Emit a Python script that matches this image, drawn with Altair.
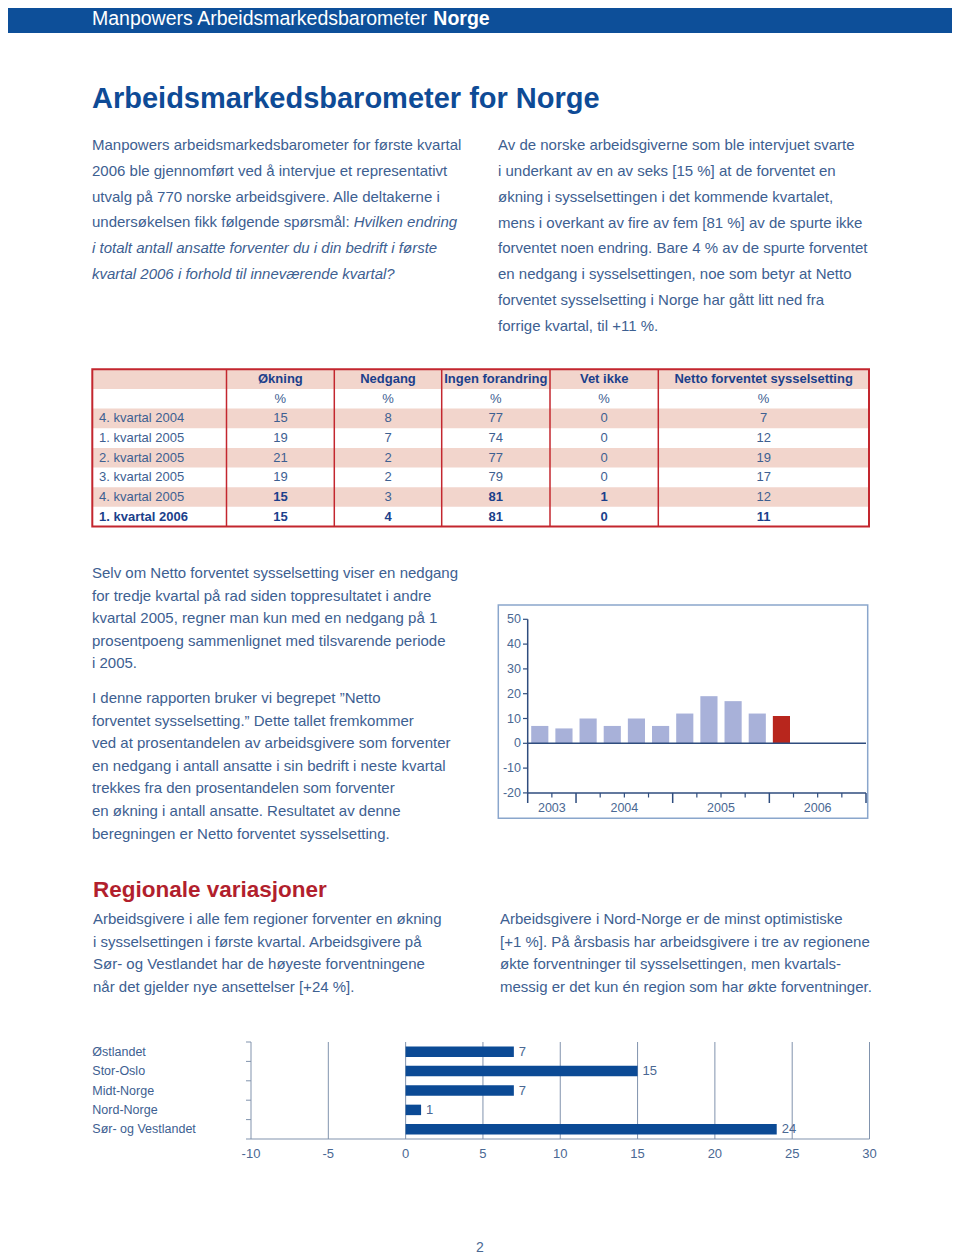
import altair as alt
import pandas as pd

# ======================= DATA =======================
header_regular = "Manpowers Arbeidsmarkedsbarometer "
header_bold = "Norge"
page_title = "Arbeidsmarkedsbarometer for Norge"

intro_left_normal = [
    "Manpowers arbeidsmarkedsbarometer for første kvartal",
    "2006 ble gjennomført ved å intervjue et representativt",
    "utvalg på 770 norske arbeidsgivere. Alle deltakerne i",
    "undersøkelsen fikk følgende spørsmål: ",
]
intro_left_italic_tail = ["Hvilken endring"]
intro_left_italic = [
    "i totalt antall ansatte forventer du i din bedrift i første",
    "kvartal 2006 i forhold til inneværende kvartal?",
]
intro_right = [
    "Av de norske arbeidsgiverne som ble intervjuet svarte",
    "i underkant av en av seks [15 %] at de forventet en",
    "økning i sysselsettingen i det kommende kvartalet,",
    "mens i overkant av fire av fem [81 %] av de spurte ikke",
    "forventet noen endring. Bare 4 % av de spurte forventet",
    "en nedgang i sysselsettingen, noe som betyr at Netto",
    "forventet sysselsetting i Norge har gått litt ned fra",
    "forrige kvartal, til +11 %.",
]
mid_para1 = [
    "Selv om Netto forventet sysselsetting viser en nedgang",
    "for tredje kvartal på rad siden toppresultatet i andre",
    "kvartal 2005, regner man kun med en nedgang på 1",
    "prosentpoeng sammenlignet med tilsvarende periode",
    "i 2005.",
]
mid_para2 = [
    "I denne rapporten bruker vi begrepet \u201dNetto",
    "forventet sysselsetting.\u201d Dette tallet fremkommer",
    "ved at prosentandelen av arbeidsgivere som forventer",
    "en nedgang i antall ansatte i sin bedrift i neste kvartal",
    "trekkes fra den prosentandelen som forventer",
    "en økning i antall ansatte. Resultatet av denne",
    "beregningen er Netto forventet sysselsetting.",
]
region_title = "Regionale variasjoner"
region_left = [
    "Arbeidsgivere i alle fem regioner forventer en økning",
    "i sysselsettingen i første kvartal. Arbeidsgivere på",
    "Sør- og Vestlandet har de høyeste forventningene",
    "når det gjelder nye ansettelser [+24 %].",
]
region_right = [
    "Arbeidsgivere i Nord-Norge er de minst optimistiske",
    "[+1 %]. På årsbasis har arbeidsgivere i tre av regionene",
    "økte forventninger til sysselsettingen, men kvartals-",
    "messig er det kun én region som har økte forventninger.",
]

table_columns = ["Økning", "Nedgang", "Ingen forandring", "Vet ikke",
                 "Netto forventet sysselsetting"]
table_unit = "%"
table_periods = ["4. kvartal 2004", "1. kvartal 2005", "2. kvartal 2005",
                 "3. kvartal 2005", "4. kvartal 2005", "1. kvartal 2006"]
table_okning = [15, 19, 21, 19, 15, 15]
table_nedgang = [8, 7, 2, 2, 3, 4]
table_ingen = [77, 74, 77, 79, 81, 81]
table_vet_ikke = [0, 0, 0, 0, 1, 0]
table_netto = [7, 12, 19, 17, 12, 11]

bar_quarters = ["2003 K3", "2003 K4",
                "2004 K1", "2004 K2", "2004 K3", "2004 K4",
                "2005 K1", "2005 K2", "2005 K3", "2005 K4",
                "2006 K1", "2006 K2", "2006 K3", "2006 K4"]
bar_values = [7, 6, 10, 7, 10, 7, 12, 19, 17, 12, 11]
bar_years = ["2003", "2004", "2005", "2006"]
bar_year_quarters = [2, 4, 4, 4]
bar_y_ticks = [50, 40, 30, 20, 10, 0, -10, -20]

regions = ["Østlandet", "Stor-Oslo", "Midt-Norge", "Nord-Norge", "Sør- og Vestlandet"]
region_values = [7, 15, 7, 1, 24]
region_ticks = [-10, -5, 0, 5, 10, 15, 20, 25, 30]

page_number = "2"

# ======================= STYLE / LAYOUT =======================
FONT = "Liberation Sans"
BODY = "#3d6091"
HEAD_BLUE = "#0d4f99"
TITLE = "#0e4b96"
TAB_HEAD = "#1b3f8b"
PINK = "#f2d5cc"
TAB_RED = "#c3262e"
LAV = "#a8b1d9"
BAR_RED = "#b8261d"
AXIS = "#2f4d7e"
BOX = "#8aa6cc"
HBAR = "#0b4a95"
GRID = "#8193ad"
REG_RED = "#b21f2d"
LABEL = "#4a6893"

W, H = 944, 1251


def P(v):
    """page coordinate -> chart coordinate (8px page margin)"""
    return v - 8


ONE = pd.DataFrame({"k": [0]})


def text_block(lines, x, y0, dy, start=0, size=15, color=BODY, weight="normal",
               style="normal", align="left"):
    df = pd.DataFrame({"t": lines, "i": [start + k for k in range(len(lines))]})
    return alt.Chart(df).mark_text(
        align=align, baseline="middle", font=FONT, fontSize=size,
        fontWeight=weight, fontStyle=style, color=color
    ).encode(
        x=alt.value(P(x)),
        y=alt.Y("i:Q", scale=alt.Scale(domain=[0, 1], range=[P(y0), P(y0 + dy)], nice=False),
                axis=None),
        text="t:N",
    )


layers = []

# ---------- header band & titles ----------
layers.append(alt.Chart(ONE).mark_rect(color=HEAD_BLUE).encode(
    x=alt.value(0), x2=alt.value(W), y=alt.value(0), y2=alt.value(P(33))))
layers.append(text_block([header_regular], 92, 19, 20, size=19.5, color="white"))
layers.append(text_block([header_bold], 92 + 17.505 * 19.5, 19, 20, size=19.5,
                         color="white", weight="bold"))
layers.append(text_block([page_title], 92, 99, 30, size=29, color=TITLE, weight="bold"))

# ---------- intro paragraphs ----------
layers.append(text_block(intro_left_normal, 92, 145, 25.8))
layers.append(text_block(intro_left_italic_tail, 92 + 17.45 * 15, 145, 25.8, start=3, style="italic"))
layers.append(text_block(intro_left_italic, 92, 145, 25.8, start=4, style="italic"))
layers.append(text_block(intro_right, 498, 145, 25.86))

# ---------- table ----------
col_edges = [92.3, 226.5, 334.3, 441.7, 550.0, 658.3, 869.0]
col_centers = [P((col_edges[i + 1] + col_edges[i + 2]) / 2) for i in range(len(table_columns))]
t_top, t_bot = 369.3, 526.5
row_keys = ["head", "unit"] + ["r%d" % i for i in range(len(table_periods))]
pink_rows = ["head", "r0", "r2", "r4"]
bold_cells = {(5, 0), (5, 1), (5, 2), (5, 3), (5, 4), (4, 0), (4, 2), (4, 3)}

ysc_t = alt.Scale(domain=row_keys, range=[P(t_top), P(t_bot)], paddingInner=0, paddingOuter=0)
idsc = alt.Scale(domain=[0, W], range=[0, W], nice=False, zero=False)

layers.append(alt.Chart(pd.DataFrame({"row": pink_rows})).mark_rect(color=PINK).encode(
    y=alt.Y("row:N", scale=ysc_t, axis=None),
    x=alt.value(P(col_edges[0])), x2=alt.value(P(col_edges[-1]))))
layers.append(alt.Chart(pd.DataFrame({"e": [P(e) for e in col_edges[1:-1]]})).mark_rule(
    color=TAB_RED, strokeWidth=1.5).encode(
    x=alt.X("e:Q", scale=idsc, axis=None),
    y=alt.value(P(t_top)), y2=alt.value(P(t_bot))))
layers.append(alt.Chart(ONE).mark_rect(fillOpacity=0, stroke=TAB_RED, strokeWidth=2).encode(
    x=alt.value(P(col_edges[0])), x2=alt.value(P(col_edges[-1])),
    y=alt.value(P(t_top)), y2=alt.value(P(t_bot))))

head_df = pd.DataFrame({"t": table_columns, "cx": col_centers, "row": "head"})
unit_df = pd.DataFrame({"t": [table_unit] * len(table_columns), "cx": col_centers, "row": "unit"})
table_values = [table_okning, table_nedgang, table_ingen, table_vet_ikke, table_netto]
cells = []
for ri in range(len(table_periods)):
    for ci in range(len(table_columns)):
        cells.append({"t": str(table_values[ci][ri]), "cx": col_centers[ci], "row": "r%d" % ri,
                      "bold": (ri, ci) in bold_cells})
cells_df = pd.DataFrame(cells)


def table_text(df, weight, color, size=13):
    return alt.Chart(df).mark_text(align="center", baseline="middle", font=FONT, fontSize=size,
                                   fontWeight=weight, color=color).encode(
        x=alt.X("cx:Q", scale=idsc, axis=None),
        y=alt.Y("row:N", scale=ysc_t, axis=None),
        text="t:N")


layers.append(table_text(head_df, "bold", TAB_HEAD))
layers.append(table_text(unit_df, "normal", BODY, 13))
layers.append(table_text(cells_df[~cells_df["bold"]], "normal", BODY, 13))
layers.append(table_text(cells_df[cells_df["bold"]], "bold", TAB_HEAD, 13))

lab_df = pd.DataFrame({"t": table_periods, "row": ["r%d" % i for i in range(len(table_periods))]})
for sub, weight, color in [(lab_df.iloc[:-1], "normal", BODY), (lab_df.iloc[-1:], "bold", TAB_HEAD)]:
    layers.append(alt.Chart(sub).mark_text(align="left", baseline="middle", font=FONT, fontSize=13,
                                           fontWeight=weight, color=color).encode(
        x=alt.value(P(99)), y=alt.Y("row:N", scale=ysc_t, axis=None), text="t:N"))

# ---------- middle paragraphs ----------
layers.append(text_block(mid_para1, 92, 573, 22.6))
layers.append(text_block(mid_para2, 92, 698, 22.6))

# ---------- vertical bar chart ----------
bx0, bx1 = 527.7, 866.0
ysc = alt.Scale(domain=[-20, 50], range=[P(792.9), P(619.3)], nice=False)
xband = alt.Scale(domain=bar_quarters, range=[P(bx0), P(bx1)], paddingInner=0.29, paddingOuter=0.145)
nq = len(bar_quarters)
xq = alt.Scale(domain=[0, nq], range=[P(bx0), P(bx1)], nice=False, zero=False)

layers.append(alt.Chart(ONE).mark_rect(fillOpacity=0, stroke=BOX, strokeWidth=1.5).encode(
    x=alt.value(P(498.3)), x2=alt.value(P(867.7)), y=alt.value(P(605)), y2=alt.value(P(818.3))))

bars_df = pd.DataFrame({"q": bar_quarters[:len(bar_values)], "v": bar_values})
bars_df["current"] = [i == len(bar_values) - 1 for i in range(len(bar_values))]
layers.append(alt.Chart(bars_df).mark_bar().encode(
    x=alt.X("q:N", scale=xband, axis=None),
    y=alt.Y("v:Q", scale=ysc, axis=None),
    y2=alt.datum(0),
    color=alt.condition("datum.current", alt.value(BAR_RED), alt.value(LAV))))

layers.append(alt.Chart(pd.DataFrame({"lo": [min(bar_y_ticks)], "hi": [max(bar_y_ticks)]})).mark_rule(
    color=AXIS, strokeWidth=1.5).encode(
    x=alt.value(P(bx0)), y=alt.Y("lo:Q", scale=ysc, axis=None), y2="hi:Q"))
layers.append(alt.Chart(pd.DataFrame({"t": [0, min(bar_y_ticks)]})).mark_rule(
    color=AXIS, strokeWidth=1.5).encode(
    y=alt.Y("t:Q", scale=ysc, axis=None), x=alt.value(P(bx0)), x2=alt.value(P(bx1))))
ytick_df = pd.DataFrame({"t": bar_y_ticks, "s": [str(t) for t in bar_y_ticks]})
layers.append(alt.Chart(ytick_df).mark_rule(color=AXIS, strokeWidth=1.2).encode(
    y=alt.Y("t:Q", scale=ysc, axis=None), x=alt.value(P(523)), x2=alt.value(P(bx0))))
layers.append(alt.Chart(ytick_df).mark_text(align="right", baseline="middle", font=FONT,
                                            fontSize=12.5, color=LABEL).encode(
    y=alt.Y("t:Q", scale=ysc, axis=None), x=alt.value(P(521)), text="s:N"))

bounds = [0]
for n in bar_year_quarters:
    bounds.append(bounds[-1] + n)
minor = [i for i in range(nq + 1) if i not in bounds]
layers.append(alt.Chart(pd.DataFrame({"i": minor})).mark_rule(color=AXIS, strokeWidth=1.2).encode(
    x=alt.X("i:Q", scale=xq, axis=None), y=alt.value(P(792.9)), y2=alt.value(P(797.5))))
layers.append(alt.Chart(pd.DataFrame({"i": bounds})).mark_rule(color=AXIS, strokeWidth=1.5).encode(
    x=alt.X("i:Q", scale=xq, axis=None), y=alt.value(P(792.9)), y2=alt.value(P(803))))
year_mid = [(bounds[k] + bounds[k + 1]) / 2 for k in range(len(bar_years))]
layers.append(alt.Chart(pd.DataFrame({"y": bar_years, "m": year_mid})).mark_text(
    align="center", baseline="middle", font=FONT, fontSize=12.5, color=LABEL).encode(
    x=alt.X("m:Q", scale=xq, axis=None), y=alt.value(P(807.5)), text="y:N"))

# ---------- regional section ----------
layers.append(text_block([region_title], 93, 890, 22, size=22.5, color=REG_RED, weight="bold"))
layers.append(text_block(region_left, 93, 919, 22.67))
layers.append(text_block(region_right, 500, 919, 22.67))

xr = alt.Scale(domain=[min(region_ticks), max(region_ticks)], range=[P(251), P(869.5)], nice=False)
ry0, ry1 = 1042.0, 1139.0
yr = alt.Scale(domain=regions, range=[P(ry0), P(ry1)], paddingInner=0.46, paddingOuter=0.23)
yk = alt.Scale(domain=[0, len(regions)], range=[P(ry0), P(ry1)], nice=False, zero=False)

rt_df = pd.DataFrame({"t": region_ticks, "s": [str(t) for t in region_ticks]})
layers.append(alt.Chart(rt_df).mark_rule(color=GRID, strokeWidth=1).encode(
    x=alt.X("t:Q", scale=xr, axis=None), y=alt.value(P(ry0)), y2=alt.value(P(ry1))))
layers.append(alt.Chart(pd.DataFrame({"k": list(range(len(regions) + 1))})).mark_rule(
    color=GRID, strokeWidth=1).encode(
    y=alt.Y("k:Q", scale=yk, axis=None), x=alt.value(P(246)), x2=alt.value(P(251))))
layers.append(alt.Chart(pd.DataFrame({"lo": [min(region_ticks)], "hi": [max(region_ticks)]})).mark_rule(
    color=GRID, strokeWidth=1).encode(
    x=alt.X("lo:Q", scale=xr, axis=None), x2="hi:Q", y=alt.value(P(ry1))))

reg_df = pd.DataFrame({"r": regions, "v": region_values, "s": [str(v) for v in region_values]})
layers.append(alt.Chart(reg_df).mark_bar(color=HBAR).encode(
    x=alt.X("v:Q", scale=xr, axis=None), x2=alt.datum(0),
    y=alt.Y("r:N", scale=yr, axis=None)))
layers.append(alt.Chart(reg_df).mark_text(align="left", baseline="middle", dx=5, font=FONT,
                                          fontSize=13, color=LABEL).encode(
    x=alt.X("v:Q", scale=xr, axis=None), y=alt.Y("r:N", scale=yr, axis=None), text="s:N"))
layers.append(alt.Chart(reg_df).mark_text(align="left", baseline="middle", font=FONT,
                                          fontSize=12.5, color=BODY).encode(
    x=alt.value(P(92.3)), y=alt.Y("r:N", scale=yr, axis=None), text="r:N"))
layers.append(alt.Chart(rt_df).mark_text(align="center", baseline="middle", font=FONT,
                                         fontSize=13, color=LABEL).encode(
    x=alt.X("t:Q", scale=xr, axis=None), y=alt.value(P(1153.5)), text="s:N"))

# ---------- page number ----------
layers.append(text_block([page_number], 480, 1248, 20, size=14, color=LABEL, align="center"))

chart = alt.layer(*layers).resolve_scale(
    x="independent", y="independent"
).properties(
    width=W, height=H, padding=0, background="white",
    autosize=alt.AutoSizeParams(type="none"),
).configure_view(stroke=None)

chart.save("out.html", embed_options={"renderer": "svg", "actions": False})
